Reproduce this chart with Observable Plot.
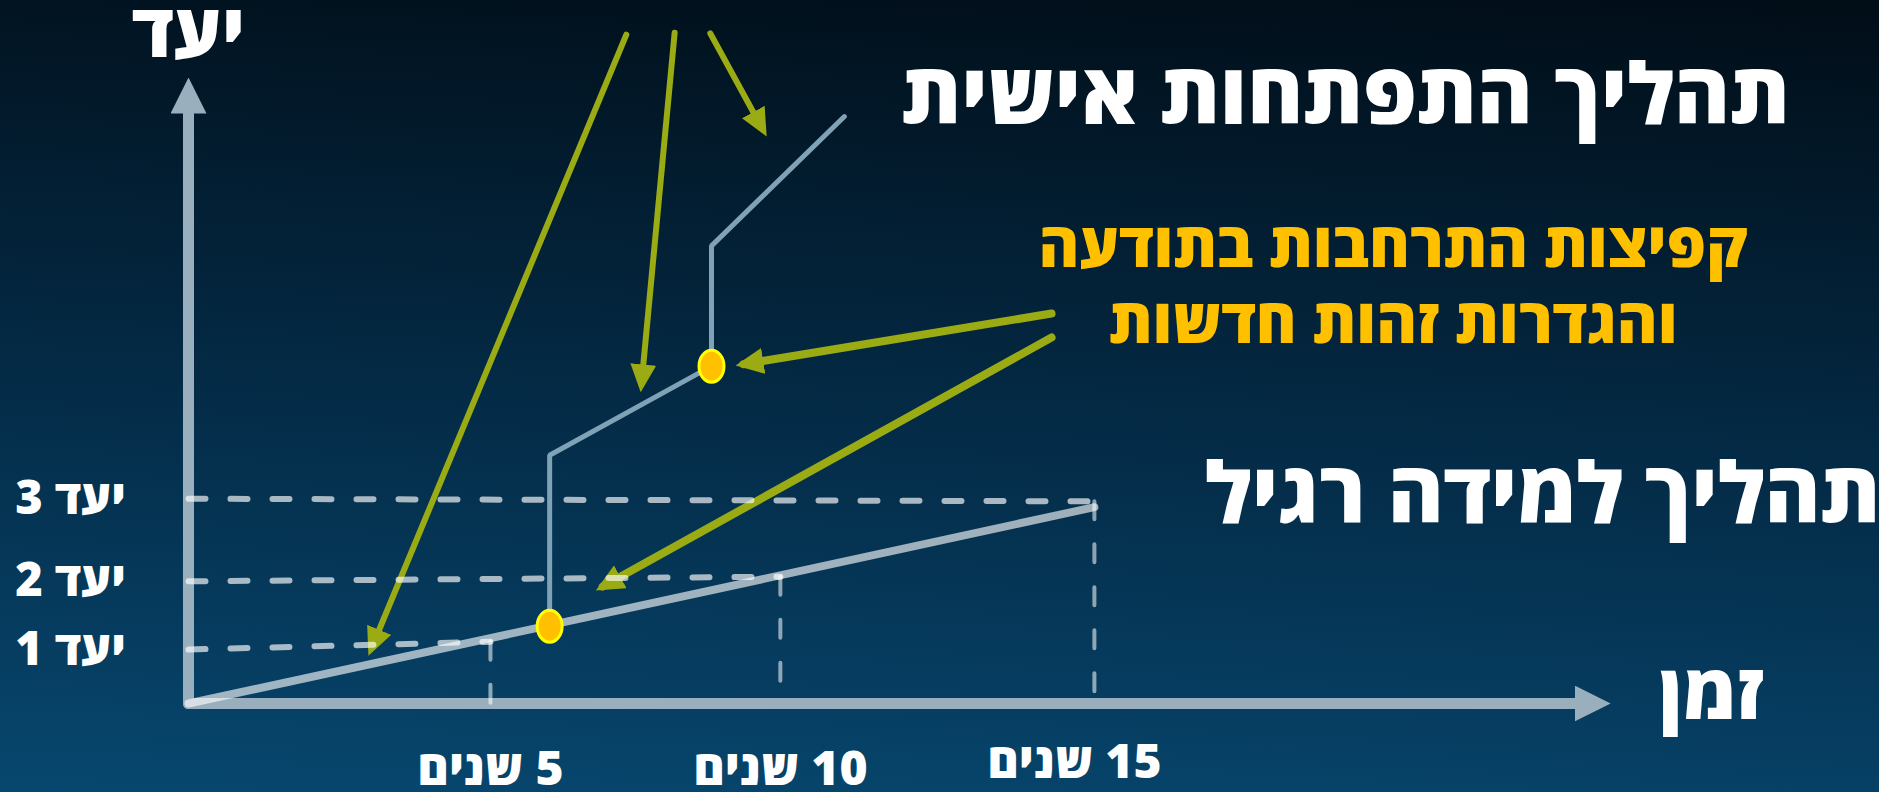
<!DOCTYPE html>
<html>
<head>
<meta charset="utf-8">
<script src="https://cdn.jsdelivr.net/npm/d3@7"></script>
<script src="https://cdn.jsdelivr.net/npm/@observablehq/plot@0.6"></script>
<style>
  html, body { margin: 0; padding: 0; background: #03263f; overflow: hidden; }
  #chart svg { display: block; }
</style>
</head>
<body>
<div id="chart"></div>
<script>
// ---------- data ----------
// goals reached by the regular learning process
const goalNames      = ["יעד 1", "יעד 2", "יעד 3"];
const goalLevelStart = [0.83, 1.88, 3.15];   // level of the dashed goal line at the y axis
const goalLevelEnd   = [0.95, 1.95, 3.11];   // level where it meets the regular line
const goalYears      = [5, 9.8, 15];         // years needed by the regular process
const yearTickLabels = ["5 שנים", "10 שנים", "15 שנים"];

// regular process (straight line)
const regularYears  = [0, 15];
const regularLevels = [0, 3.02];

// personal development process (step path with leaps)
const personalYears  = [5.98, 5.98, 8.66, 8.66, 10.86];
const personalLevels = [1.19, 3.82, 5.19, 7.04, 9.03];

// leap points (consciousness expansion)
const leapYears  = [5.98, 8.66];
const leapLevels = [1.19, 5.19];

// pointer arrows: from the top edge, and from the gold caption
const topPointerFrom  = [[7.25, 10.29], [8.05, 10.32], [8.64, 10.31]];
const topPointerTo    = [[3.03, 0.85], [7.50, 4.91], [9.51, 8.83]];
const sidePointerFrom = [[14.29, 6.00], [14.29, 5.63]];
const sidePointerTo   = [[9.19, 5.22], [6.86, 1.80]];

// axes extents (years, levels)
const axisEnds = [[0, 9.4], [23.3, 0]];

// texts
const titlePersonal = "תהליך התפתחות אישית";
const titleRegular  = "תהליך למידה רגיל";
const captionLines  = ["קפיצות התרחבות בתודעה", "והגדרות זהות חדשות"];
const yAxisTitle    = "יעד";
const xAxisTitle    = "זמן";

// ---------- tables built from the arrays ----------
const goals = goalNames.map((name, i) => ({
  name, levelStart: goalLevelStart[i], levelEnd: goalLevelEnd[i], year: goalYears[i], tick: yearTickLabels[i]
}));
const regular  = regularYears.map((year, i) => ({year, level: regularLevels[i]}));
const personal = personalYears.map((year, i) => ({year, level: personalLevels[i]}));
const leaps    = leapYears.map((year, i) => ({year, level: leapLevels[i]}));
const toLinks  = (from, to) => from.map((f, i) => ({x1: f[0], y1: f[1], x2: to[i][0], y2: to[i][1]}));
const topPointers  = toLinks(topPointerFrom, topPointerTo);
const sidePointers = toLinks(sidePointerFrom, sidePointerTo);
const axes = axisEnds.map(e => ({x1: 0, y1: 0, x2: e[0], y2: e[1]}));

const green = "#9aab14";
const axisGrey = "#9aafbe";
const font = "'Open Sans', 'DejaVu Sans', 'Liberation Sans', sans-serif";
const W = 800;

const ellipse = {
  draw(ctx, size) {
    const r = Math.sqrt(size / Math.PI), rx = 0.78 * r, ry = r, k = 0.5523;
    ctx.moveTo(rx, 0);
    ctx.bezierCurveTo(rx, ry * k, rx * k, ry, 0, ry);
    ctx.bezierCurveTo(-rx * k, ry, -rx, ry * k, -rx, 0);
    ctx.bezierCurveTo(-rx, -ry * k, -rx * k, -ry, 0, -ry);
    ctx.bezierCurveTo(rx * k, -ry, rx, -ry * k, rx, 0);
    ctx.closePath();
  }
};

const plot = Plot.plot({
  width: 1879,
  height: 792,
  marginLeft: 188,
  marginRight: 0,
  marginTop: 53,
  marginBottom: 89,
  x: {domain: [0, 28], axis: null},
  y: {domain: [0, 10], axis: null},
  style: {
    background: "linear-gradient(183deg, #010d17 0%, #042c48 55%, #07476f 100%)",
    direction: "rtl",
    overflow: "visible"
  },
  marks: [
    // axes
    Plot.link(axes, {x1: "x1", y1: "y1", x2: "x2", y2: "y2", stroke: axisGrey, strokeWidth: 11,
      strokeLinecap: "round"}),
    // pointer arrows
    Plot.link(topPointers, {x1: "x1", y1: "y1", x2: "x2", y2: "y2", stroke: green, strokeWidth: 6,
      strokeLinecap: "round"}),
    Plot.link(sidePointers, {x1: "x1", y1: "y1", x2: "x2", y2: "y2", stroke: green, strokeWidth: 8,
      strokeLinecap: "round"}),
    // personal development path
    Plot.line(personal, {x: "year", y: "level", stroke: "#7fa2b6", strokeWidth: 5, strokeLinejoin: "miter"}),
    // regular process
    Plot.line(regular, {x: "year", y: "level", stroke: "white", strokeOpacity: 0.62, strokeWidth: 8}),
    // goal dashed guides
    Plot.link(goals, {x1: 0, y1: "levelStart", x2: "year", y2: "levelEnd", stroke: "white", strokeOpacity: 0.66,
      strokeWidth: 6, strokeDasharray: "17,25", strokeLinecap: "round"}),
    Plot.link(goals, {x1: "year", y1: "levelEnd", x2: "year", y2: 0, stroke: "white", strokeOpacity: 0.55,
      strokeWidth: 4, strokeDasharray: "18,25", strokeLinecap: "round"}),
    // leap points
    Plot.dot(leaps, {x: "year", y: "level", r: 16, symbol: ellipse, fill: "#ffc000", stroke: "#ffff00", strokeWidth: 3}),
    // goal labels
    Plot.text(goals, {x: 0, y: "levelStart", text: "name", dx: -118, fill: "white", fontSize: 47,
      fontWeight: W, fontFamily: font, lineAnchor: "middle"}),
    // year tick labels
    Plot.text(goals.slice(0, 2), {x: "year", y: 0, text: "tick", dy: 81, fill: "white", fontSize: 48,
      fontWeight: W, fontFamily: font, lineAnchor: "bottom"}),
    Plot.text(goals.slice(2), {x: "year", y: 0, text: "tick", dx: -20, dy: 74, fill: "white", fontSize: 48,
      fontWeight: W, fontFamily: font, lineAnchor: "bottom"}),
    // axis titles
    Plot.text([yAxisTitle], {x: 0, y: 9.95, fill: "white", fontSize: 75, fontWeight: W, fontFamily: font,
      lineAnchor: "bottom"}),
    Plot.text([xAxisTitle], {x: 25.22, y: 0, dy: 15, fill: "white", fontSize: 77, fontWeight: W, fontFamily: font,
      lineAnchor: "bottom"}),
    // titles
    Plot.text([titlePersonal], {x: 19.16, y: 8.92, fill: "white", fontSize: 85, fontWeight: W, fontFamily: font,
      lineAnchor: "bottom"}),
    Plot.text([titleRegular], {x: 22.42, y: 2.77, fill: "white", fontSize: 85, fontWeight: W, fontFamily: font,
      lineAnchor: "bottom"}),
    Plot.text(captionLines.slice(0, 1), {x: 19.95, y: 6.71, fill: "#ffc000", fontSize: 62, fontWeight: W,
      fontFamily: font, lineAnchor: "bottom"}),
    Plot.text(captionLines.slice(1), {x: 19.95, y: 5.54, fill: "#ffc000", fontSize: 62, fontWeight: W,
      fontFamily: font, lineAnchor: "bottom"})
  ]
});

// filled triangular arrow heads as SVG markers
const svg = d3.select(plot);
const defs = svg.insert("defs", ":first-child");
function addMarker(id, len, half, ref, color) {
  defs.append("marker")
    .attr("id", id)
    .attr("markerUnits", "userSpaceOnUse")
    .attr("viewBox", `0 ${-half} ${len} ${2 * half}`)
    .attr("markerWidth", len)
    .attr("markerHeight", 2 * half)
    .attr("refX", ref)
    .attr("refY", 0)
    .attr("orient", "auto")
    .append("path")
    .attr("d", `M0,${-half}L${len},0L0,${half}Z`)
    .attr("fill", color);
}
addMarker("axisHead", 36, 18, 21, axisGrey);
addMarker("pointerHead", 28, 13, 20, green);
const strokeOf = (el) => (el.getAttribute("stroke") || (el.parentNode && el.parentNode.getAttribute && el.parentNode.getAttribute("stroke")) || "").toLowerCase();
svg.selectAll("path").each(function () {
  if (this.closest("marker")) return;
  const s = strokeOf(this);
  if (s === axisGrey) this.setAttribute("marker-end", "url(#axisHead)");
  else if (s === green) this.setAttribute("marker-end", "url(#pointerHead)");
});

document.getElementById("chart").appendChild(plot);
</script>
</body>
</html>
